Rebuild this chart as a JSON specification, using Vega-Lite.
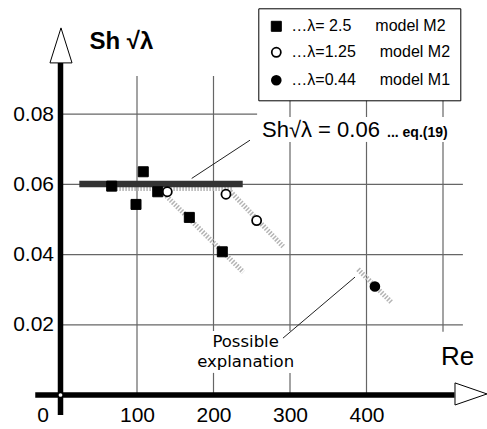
{
  "$schema": "https://vega.github.io/schema/vega-lite/v6.json",
  "width": 382.5,
  "height": 351,
  "autosize": {"type": "none"},
  "padding": {"left": 60.5, "top": 44, "right": 44, "bottom": 34},
  "background": "white",
  "config": {
    "font": "Liberation Sans",
    "view": {"stroke": null},
    "legend": {
      "title": null, "orient": "none", "legendX": 197.8, "legendY": -35.7,
      "fillColor": "white", "strokeColor": "black", "padding": 10,
      "labelFontSize": 16, "labelColor": "black", "labelLimit": 400, "labelOffset": 7,
      "symbolStrokeColor": "black", "rowPadding": 9
    }
  },
  "datasets": {
    "grid": [
      {"x": 100, "y": 0, "x2": 100, "y2": 0.0909},
      {"x": 200, "y": 0, "x2": 200, "y2": 0.0063},
      {"x": 200, "y": 0.0182, "x2": 200, "y2": 0.0909},
      {"x": 300, "y": 0, "x2": 300, "y2": 0.0063},
      {"x": 300, "y": 0.0182, "x2": 300, "y2": 0.0721},
      {"x": 300, "y": 0.0792, "x2": 300, "y2": 0.0855},
      {"x": 400, "y": 0, "x2": 400, "y2": 0.0721},
      {"x": 400, "y": 0.0792, "x2": 400, "y2": 0.0855},
      {"x": 500, "y": 0.018, "x2": 500, "y2": 0.0721},
      {"x": 500, "y": 0.0792, "x2": 500, "y2": 0.0855},
      {"x": 0, "y": 0.08, "x2": 257, "y2": 0.08},
      {"x": 0, "y": 0.06, "x2": 526, "y2": 0.06},
      {"x": 0, "y": 0.04, "x2": 526, "y2": 0.04},
      {"x": 0, "y": 0.02, "x2": 526, "y2": 0.02}
    ],
    "trends": [
      {"x": 73, "y": 0.0588, "x2": 225, "y2": 0.0588},
      {"x": 130, "y": 0.0585, "x2": 239, "y2": 0.035},
      {"x": 222, "y": 0.058, "x2": 291, "y2": 0.0423},
      {"x": 389, "y": 0.0358, "x2": 433, "y2": 0.0263}
    ],
    "equation": [
      {"x": 24.6, "y": 0.0601, "x2": 238.2, "y2": 0.0601}
    ],
    "leaders": [
      {"x": 247.7, "y": 0.0726, "x2": 171.5, "y2": 0.0617},
      {"x": 290.8, "y": 0.0162, "x2": 385, "y2": 0.0336}
    ],
    "bigNotes": [
      {"x": 263.4, "y": 0.0735, "text": "Sh√λ = 0.06"}
    ],
    "smallNotes": [
      {"x": 426.8, "y": 0.0735, "text": "... eq.(19)"}
    ],
    "midNotes": [
      {"x": 242, "y": 0.0137, "text": "Possible"},
      {"x": 242, "y": 0.0080, "text": "explanation"}
    ],
    "points": [
      {"x": 139.6, "y": 0.0579, "series": "…λ=1.25\u2003\u2002model M2"},
      {"x": 216.3, "y": 0.0572, "series": "…λ=1.25\u2003\u2002model M2"},
      {"x": 256.4, "y": 0.0497, "series": "…λ=1.25\u2003\u2002model M2"},
      {"x": 411, "y": 0.0309, "series": "…λ=0.44\u2003\u2002model M1"},
      {"x": 66.9, "y": 0.0595, "series": "…λ= 2.5\u2003\u2002model M2"},
      {"x": 108.2, "y": 0.0636, "series": "…λ= 2.5\u2003\u2002model M2"},
      {"x": 98.7, "y": 0.0543, "series": "…λ= 2.5\u2003\u2002model M2"},
      {"x": 127.1, "y": 0.0579, "series": "…λ= 2.5\u2003\u2002model M2"},
      {"x": 168.4, "y": 0.0506, "series": "…λ= 2.5\u2003\u2002model M2"},
      {"x": 211.5, "y": 0.0408, "series": "…λ= 2.5\u2003\u2002model M2"}
    ],
    "axisLines": [
      {"x": -33, "y": 0, "x2": 515, "y2": 0},
      {"x": 0, "y": -0.0057, "x2": 0, "y2": 0.0946}
    ],
    "upArrow": [{"x": 0.65, "y": 0.0996}],
    "rightArrow": [{"x": 536.6, "y": 0.0003}],
    "origin": [{"x": 0, "y": 0}]
  },
  "encoding": {
    "x": {
      "field": "x", "type": "quantitative",
      "scale": {"domain": [0, 500], "nice": false, "zero": false},
      "axis": {
        "title": "Re", "values": [0, 100, 200, 300, 400],
        "domain": false, "ticks": false, "grid": false,
        "labelFontSize": 21, "labelColor": "black", "labelPadding": 9,
        "labelOverlap": false, "labelFlush": false, "labelBound": false,
        "labelOffset": {"condition": {"test": "datum.value === 0", "value": -18}, "value": 0},
        "titleFontSize": 26, "titleFontWeight": "normal", "titleColor": "black",
        "titleX": 396.5, "titleY": -31, "titleAlign": "center", "titleBaseline": "alphabetic"
      }
    },
    "y": {
      "field": "y", "type": "quantitative",
      "scale": {"domain": [0, 0.1], "nice": false, "zero": false},
      "axis": {
        "title": "Sh √λ", "values": [0.02, 0.04, 0.06, 0.08], "format": ".2f",
        "domain": false, "ticks": false, "grid": false,
        "labelFontSize": 21, "labelColor": "black", "labelPadding": 7,
        "labelOverlap": false, "labelBound": false,
        "titleAngle": 0, "titleX": 28.5, "titleY": 4.3, "titleAlign": "left",
        "titleBaseline": "alphabetic", "titleFontSize": 24, "titleFontWeight": "bold", "titleColor": "black"
      }
    }
  },
  "layer": [
    {
      "data": {"name": "grid"},
      "mark": {"type": "rule", "color": "#666", "strokeWidth": 1.2},
      "encoding": {"x2": {"field": "x2"}, "y2": {"field": "y2"}}
    },
    {
      "data": {"name": "trends"},
      "mark": {"type": "rule", "color": "#b4b4b4", "strokeWidth": 5, "strokeDash": [1.5, 1.5]},
      "encoding": {"x2": {"field": "x2"}, "y2": {"field": "y2"}}
    },
    {
      "data": {"name": "equation"},
      "mark": {"type": "rule", "color": "#333", "strokeWidth": 6.5},
      "encoding": {"x2": {"field": "x2"}, "y2": {"field": "y2"}}
    },
    {
      "data": {"name": "leaders"},
      "mark": {"type": "rule", "color": "#222", "strokeWidth": 1},
      "encoding": {"x2": {"field": "x2"}, "y2": {"field": "y2"}}
    },
    {
      "data": {"name": "bigNotes"},
      "mark": {"type": "text", "align": "left", "baseline": "alphabetic", "fontSize": 22, "color": "black"},
      "encoding": {"text": {"field": "text"}}
    },
    {
      "data": {"name": "smallNotes"},
      "mark": {"type": "text", "align": "left", "baseline": "alphabetic", "fontSize": 14, "fontWeight": "bold", "color": "black"},
      "encoding": {"text": {"field": "text"}}
    },
    {
      "data": {"name": "midNotes"},
      "mark": {"type": "text", "align": "center", "baseline": "alphabetic", "font": "DejaVu Sans", "fontSize": 16.5, "color": "black"},
      "encoding": {"text": {"field": "text"}}
    },
    {
      "data": {"name": "points"},
      "mark": {"type": "point", "filled": true, "opacity": 1},
      "encoding": {
        "shape": {
          "field": "series", "type": "nominal",
          "scale": {"domain": ["…λ= 2.5\u2003\u2002model M2", "…λ=1.25\u2003\u2002model M2", "…λ=0.44\u2003\u2002model M1"], "range": ["square", "circle", "circle"]}
        },
        "fill": {
          "field": "series", "type": "nominal",
          "scale": {"domain": ["…λ= 2.5\u2003\u2002model M2", "…λ=1.25\u2003\u2002model M2", "…λ=0.44\u2003\u2002model M1"], "range": ["black", "white", "black"]}
        },
        "stroke": {
          "field": "series", "type": "nominal",
          "scale": {"domain": ["…λ= 2.5\u2003\u2002model M2", "…λ=1.25\u2003\u2002model M2", "…λ=0.44\u2003\u2002model M1"], "range": ["black", "black", "black"]}
        },
        "size": {
          "field": "series", "type": "nominal",
          "scale": {"domain": ["…λ= 2.5\u2003\u2002model M2", "…λ=1.25\u2003\u2002model M2", "…λ=0.44\u2003\u2002model M1"], "range": [100, 66, 100]}
        },
        "strokeWidth": {
          "field": "series", "type": "nominal",
          "scale": {"domain": ["…λ= 2.5\u2003\u2002model M2", "…λ=1.25\u2003\u2002model M2", "…λ=0.44\u2003\u2002model M1"], "range": [1, 2.5, 1]}
        }
      }
    },
    {
      "data": {"name": "axisLines"},
      "mark": {"type": "rule", "color": "black", "strokeWidth": 5.5},
      "encoding": {"x2": {"field": "x2"}, "y2": {"field": "y2"}}
    },
    {
      "data": {"name": "origin"},
      "mark": {"type": "point", "filled": true, "color": "white", "size": 14, "opacity": 1}
    },
    {
      "data": {"name": "upArrow"},
      "mark": {"type": "point", "shape": "M0,-1L0.63,1L-0.63,1Z", "size": 1225, "filled": true, "fill": "white", "stroke": "black", "strokeWidth": 1, "opacity": 1}
    },
    {
      "data": {"name": "rightArrow"},
      "mark": {"type": "point", "shape": "M1,0L-1,-0.69L-1,0.69Z", "size": 1024, "filled": true, "fill": "white", "stroke": "black", "strokeWidth": 1, "opacity": 1}
    }
  ]
}
